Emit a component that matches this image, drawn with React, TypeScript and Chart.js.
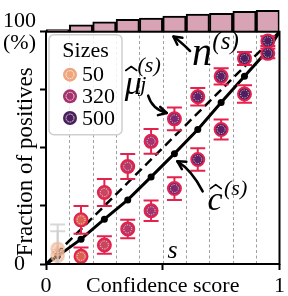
import React, { useEffect, useRef } from "react";
import { Chart, registerables } from "chart.js";
Chart.register(...registerables);

const FONT = '"Liberation Serif", "Times New Roman", serif';

// ---- data ----
const binCenters = [0.05, 0.15, 0.25, 0.35, 0.45, 0.55, 0.65, 0.75, 0.85, 0.95];
const binEdges = [0.1, 0.2, 0.3, 0.4, 0.5, 0.6, 0.7, 0.8, 0.9];
const binSizes = [50, 160, 230, 290, 320, 365, 410, 430, 480, 500];
const upperFrac = [6.5, 19.0, 30.8, 42.0, 52.8, 62.5, 72.0, 80.8, 88.5, 96.0];
const upperErr = [10.5, 6.0, 5.8, 5.4, 5.3, 4.9, 3.8, 3.5, 2.8, 2.1];
const lowerFrac = [3.6, 3.3, 8.2, 15.1, 22.9, 32.5, 45.0, 57.9, 73.2, 90.7];
const lowerErr = [10.5, 3.8, 3.8, 4.0, 4.4, 4.9, 4.8, 4.3, 3.8, 2.1];
const calibX = [0, 0.05, 0.15, 0.25, 0.35, 0.45, 0.55, 0.65, 0.75, 0.85, 0.95, 1];
const calibY = [0, 3.4, 10.7, 19.3, 27.6, 37.5, 47.5, 57.9, 69.5, 80.8, 92, 100];
const diagX = [0, 1];
const diagY = [0, 100];
const xTickValues = [0, 0.5, 1];
const xTickLabels = ["0", "Confidence score", "1"];
const yTickValues = [0, 25, 50, 75, 100];
const yTickLabels: (string | string[])[] = ["0", "", "", "", ["100", "(%)"]];
const yTitle = "Fraction of positives";
const legendTitle = "Sizes";
const legendSizes = [50, 320, 500];
const sizeMin = 50;
const sizeMax = 500;

// ---- colours ----
const cmapStops: [number, number[]][] = [
  [0, [237, 166, 126]],
  [0.24, [218, 98, 82]],
  [0.4, [200, 70, 95]],
  [0.53, [180, 58, 102]],
  [0.6, [165, 50, 108]],
  [0.7, [125, 40, 108]],
  [0.8, [95, 34, 100]],
  [1, [72, 30, 92]],
];
function sizeColor(n: number, alpha = 1) {
  const t = Math.max(0, Math.min(1, (n - sizeMin) / (sizeMax - sizeMin)));
  for (let i = 0; i < cmapStops.length - 1; i++) {
    const [t0, c0] = cmapStops[i];
    const [t1, c1] = cmapStops[i + 1];
    if (t <= t1) {
      const f = (t - t0) / (t1 - t0);
      const c = c0.map((v, k) => Math.round(v + (c1[k] - v) * f));
      return `rgba(${c[0]},${c[1]},${c[2]},${alpha})`;
    }
  }
  const c = cmapStops[cmapStops.length - 1][1];
  return `rgba(${c[0]},${c[1]},${c[2]},${alpha})`;
}
const RED = "#e3234e";
const faded = (n: number) => n <= sizeMin;
const pointFill = binSizes.map((n) => (faded(n) ? sizeColor(n, 0.55) : sizeColor(n)));
const pointEdge = binSizes.map((n) => (faded(n) ? "rgba(240,190,165,0.6)" : RED));
const errColor = binSizes.map((n) => (faded(n) ? "rgba(200,200,200,0.7)" : RED));

function arrowHead(ctx: CanvasRenderingContext2D, fx: number, fy: number, tx: number, ty: number) {
  const a = Math.atan2(ty - fy, tx - fx);
  const L = 9;
  ctx.beginPath();
  ctx.moveTo(tx - L * Math.cos(a - 0.5), ty - L * Math.sin(a - 0.5));
  ctx.lineTo(tx, ty);
  ctx.lineTo(tx - L * Math.cos(a + 0.5), ty - L * Math.sin(a + 0.5));
  ctx.stroke();
}

const decorPlugin = {
  id: "decor",
  beforeDatasetsDraw(chart: any) {
    const { ctx } = chart;
    const xs = chart.scales.x;
    const ys = chart.scales.y;
    ctx.save();
    ctx.strokeStyle = "#a0a0a0";
    ctx.lineWidth = 1;
    ctx.setLineDash([3, 2.5]);
    for (const e of binEdges) {
      const px = Math.round(xs.getPixelForValue(e)) + 0.5;
      ctx.beginPath();
      ctx.moveTo(px, ys.getPixelForValue(0));
      ctx.lineTo(px, ys.getPixelForValue(100));
      ctx.stroke();
    }
    ctx.restore();
  },
  beforeDatasetDraw(chart: any, args: any) {
    const ds = chart.data.datasets[args.index];
    if (!ds.errors) return;
    const { ctx, chartArea } = chart;
    const ys = chart.scales.y;
    ctx.save();
    ctx.beginPath();
    ctx.rect(chartArea.left, ys.getPixelForValue(100) - 2, chartArea.right - chartArea.left, ys.getPixelForValue(0) - ys.getPixelForValue(100) + 2);
    ctx.clip();
    ctx.lineWidth = 2;
    args.meta.data.forEach((el: any, i: number) => {
      const v = ds.data[i].y;
      const e = ds.errors[i];
      const y1 = ys.getPixelForValue(v + e);
      const y0 = ys.getPixelForValue(v - e);
      ctx.strokeStyle = ds.errColors[i];
      ctx.beginPath();
      ctx.moveTo(el.x, y1);
      ctx.lineTo(el.x, y0);
      ctx.moveTo(el.x - 7.5, y1);
      ctx.lineTo(el.x + 7.5, y1);
      ctx.moveTo(el.x - 7.5, y0);
      ctx.lineTo(el.x + 7.5, y0);
      ctx.stroke();
    });
    ctx.restore();
  },
  afterDatasetDraw(chart: any, args: any) {
    const ds = chart.data.datasets[args.index];
    if (!ds.errors) return;
    const { ctx } = chart;
    ctx.save();
    ctx.setLineDash([1.2, 1.3]);
    ctx.lineWidth = 1;
    ctx.strokeStyle = "rgba(255,255,255,0.7)";
    args.meta.data.forEach((el: any) => {
      ctx.beginPath();
      ctx.arc(el.x, el.y, 4, 0, Math.PI * 2);
      ctx.stroke();
    });
    ctx.restore();
  },
  afterDatasetsDraw(chart: any) {
    const { ctx, chartArea } = chart;
    const xs = chart.scales.x;
    const ys = chart.scales.y;
    const X = (v: number) => xs.getPixelForValue(v);
    const Y = (v: number) => ys.getPixelForValue(v);
    ctx.save();
    // frame
    ctx.strokeStyle = "#000";
    ctx.lineWidth = 2;
    ctx.setLineDash([]);
    ctx.strokeRect(X(0), Y(100), X(1) - X(0), Y(0) - Y(100));

    // y title
    ctx.save();
    ctx.translate(chartArea.left - 20, Y(44));
    ctx.rotate(-Math.PI / 2);
    ctx.font = `23px ${FONT}`;
    ctx.fillStyle = "#000";
    ctx.textAlign = "center";
    ctx.textBaseline = "middle";
    ctx.fillText(yTitle, 0, 0);
    ctx.restore();

    // annotations
    ctx.fillStyle = "#000";
    ctx.strokeStyle = "#000";
    ctx.textBaseline = "alphabetic";
    ctx.textAlign = "left";
    ctx.lineWidth = 2.5;
    ctx.lineCap = "round";
    ctx.lineJoin = "round";
    const hat = (cx: number, cy: number, w: number) => {
      ctx.beginPath();
      ctx.lineWidth = 1.6;
      ctx.moveTo(cx - w / 2, cy + 3);
      ctx.lineTo(cx, cy - 1);
      ctx.lineTo(cx + w / 2, cy + 3);
      ctx.stroke();
      ctx.lineWidth = 2.5;
    };
    // mu hat
    ctx.font = `italic 34px ${FONT}`;
    ctx.fillText("μ", X(0.3375), Y(73.3));
    hat(X(0.365), Y(84.6), 11);
    ctx.font = `italic 22px ${FONT}`;
    ctx.fillText("(s)", X(0.392), Y(82.5));
    ctx.fillText("j", X(0.404), Y(74.6));
    // n
    ctx.font = `italic 40px ${FONT}`;
    ctx.fillText("n", X(0.625), Y(85.8));
    ctx.font = `italic 25px ${FONT}`;
    ctx.fillText("(s)", X(0.7125), Y(92.5));
    // c hat
    ctx.font = `italic 34px ${FONT}`;
    ctx.fillText("c", X(0.692), Y(23.3));
    hat(X(0.727), Y(33.75), 11);
    ctx.font = `italic 22px ${FONT}`;
    ctx.fillText("(s)", X(0.7625), Y(29.6));
    // s
    ctx.font = `italic 26px ${FONT}`;
    ctx.fillText("s", X(0.52), Y(2.5));

    const arrow = (a: number[], c: number[], b: number[]) => {
      ctx.beginPath();
      ctx.moveTo(X(a[0]), Y(a[1]));
      ctx.quadraticCurveTo(X(c[0]), Y(c[1]), X(b[0]), Y(b[1]));
      ctx.stroke();
      arrowHead(ctx, X(c[0]), Y(c[1]), X(b[0]), Y(b[1]));
    };
    arrow([0.4375, 72.5], [0.454, 66.7], [0.517, 65]);
    arrow([0.617, 91.7], [0.575, 95.8], [0.546, 97.9]);
    arrow([0.671, 31.25], [0.625, 40.4], [0.5625, 44.2]);

    // legend
    const lx = chartArea.left + 3;
    const ly = Y(98.75);
    const lw = 73;
    const lh = 100;
    ctx.beginPath();
    ctx.roundRect(lx, ly, lw, lh, 5);
    ctx.fillStyle = "rgba(255,255,255,0.85)";
    ctx.fill();
    ctx.strokeStyle = "#cfcfcf";
    ctx.lineWidth = 1.5;
    ctx.stroke();
    ctx.fillStyle = "#000";
    ctx.font = `22px ${FONT}`;
    ctx.textAlign = "center";
    ctx.textBaseline = "middle";
    ctx.fillText(legendTitle, lx + lw / 2, ly + 17);
    ctx.textAlign = "left";
    legendSizes.forEach((s, i) => {
      const cy = ly + 40 + i * 21.7;
      const cx = lx + 21;
      ctx.beginPath();
      ctx.arc(cx, cy, 7, 0, Math.PI * 2);
      ctx.fillStyle = sizeColor(s);
      ctx.fill();
      ctx.setLineDash([1.2, 1.3]);
      ctx.lineWidth = 1;
      ctx.strokeStyle = "rgba(255,255,255,0.75)";
      ctx.beginPath();
      ctx.arc(cx, cy, 4, 0, Math.PI * 2);
      ctx.stroke();
      ctx.setLineDash([]);
      ctx.fillStyle = "#000";
      ctx.fillText(String(s), lx + 33, cy + 1);
    });
    ctx.restore();
  },
};

export default function App() {
  const ref = useRef<HTMLCanvasElement>(null);
  useEffect(() => {
    const canvas = ref.current!;
    const yMax = 110;
    const histTop = 109.2; // y level reached by the tallest histogram bar
    const k = (histTop - 100) / sizeMax;
    const ynMin = -100 / k;
    const ynMax = (yMax - 100) / k;

    const chart = new Chart(canvas, {
      type: "scatter",
      data: {
        datasets: [
          {
            type: "scatter",
            data: binCenters.map((x, i) => ({ x, y: upperFrac[i] })),
            backgroundColor: pointFill,
            borderColor: pointEdge,
            borderWidth: 2,
            pointRadius: 6.5,
            errors: upperErr,
            errColors: errColor,
            order: 0,
          } as any,
          {
            type: "scatter",
            data: binCenters.map((x, i) => ({ x, y: lowerFrac[i] })),
            backgroundColor: pointFill,
            borderColor: pointEdge,
            borderWidth: 2,
            pointRadius: 6.5,
            errors: lowerErr,
            errColors: errColor,
            order: 1,
          } as any,
          {
            type: "line",
            data: calibX.map((x, i) => ({ x, y: calibY[i] })),
            borderColor: "#000",
            borderWidth: 3,
            pointRadius: calibX.map((_, i) => (i === 0 || i === calibX.length - 1 ? 0 : 3.5)),
            pointBackgroundColor: "#000",
            pointBorderWidth: 0,
            tension: 0,
            order: 2,
          },
          {
            type: "line",
            data: diagX.map((x, i) => ({ x, y: diagY[i] })),
            borderColor: "#000",
            borderWidth: 2.5,
            borderDash: [9, 5],
            pointRadius: 0,
            order: 3,
          },
          {
            type: "bar",
            yAxisID: "yn",
            data: binCenters.map((x, i) => ({ x, y: binSizes[i] })),
            backgroundColor: "#d9a3b6",
            borderColor: "#000",
            borderWidth: 2,
            borderSkipped: "bottom",
            barPercentage: 1,
            categoryPercentage: 1,
            order: 4,
          } as any,
        ],
      },
      options: {
        animation: false,
        responsive: true,
        maintainAspectRatio: false,
        layout: { padding: { left: 0, right: 2, top: 0, bottom: 0 } },
        plugins: { legend: { display: false }, tooltip: { enabled: false } },
        scales: {
          x: {
            type: "linear",
            min: 0,
            max: 1,
            offset: false,
            afterBuildTicks: (s: any) => {
              s.ticks = xTickValues.map((v) => ({ value: v }));
            },
            afterFit: (s: any) => {
              s.height = 32;
              s.paddingLeft = 0;
              s.paddingRight = 0;
            },
            ticks: {
              autoSkip: false,
              maxRotation: 0,
              padding: 3,
              color: "#000",
              font: { family: FONT, size: 22 },
              callback: (_v: any, i: number) => xTickLabels[i],
            },
            grid: { offset: false, drawOnChartArea: false, drawTicks: true, tickLength: 6, tickColor: "#000", tickWidth: 2 },
            border: { display: false },
          },
          y: {
            type: "linear",
            min: 0,
            max: yMax,
            afterBuildTicks: (s: any) => {
              s.ticks = yTickValues.map((v) => ({ value: v }));
            },
            afterFit: (s: any) => {
              s.width = 46;
              s.paddingTop = 0;
              s.paddingBottom = 0;
            },
            ticks: {
              padding: 4,
              crossAlign: "center",
              color: "#000",
              font: { family: FONT, size: 22, lineHeight: 1.0 },
              callback: (_v: any, i: number) => yTickLabels[i],
            },
            grid: { drawOnChartArea: false, drawTicks: true, tickLength: 6, tickColor: "#000", tickWidth: 2 },
            border: { display: false },
          },
          yn: {
            type: "linear",
            display: false,
            min: ynMin,
            max: ynMax,
          },
        },
      } as any,
      plugins: [decorPlugin],
    });
    return () => chart.destroy();
  }, []);
  return (
    <div style={{ position: "absolute", left: 0, top: 0, width: 288, height: 296 }}>
      <canvas ref={ref} />
    </div>
  );
}
